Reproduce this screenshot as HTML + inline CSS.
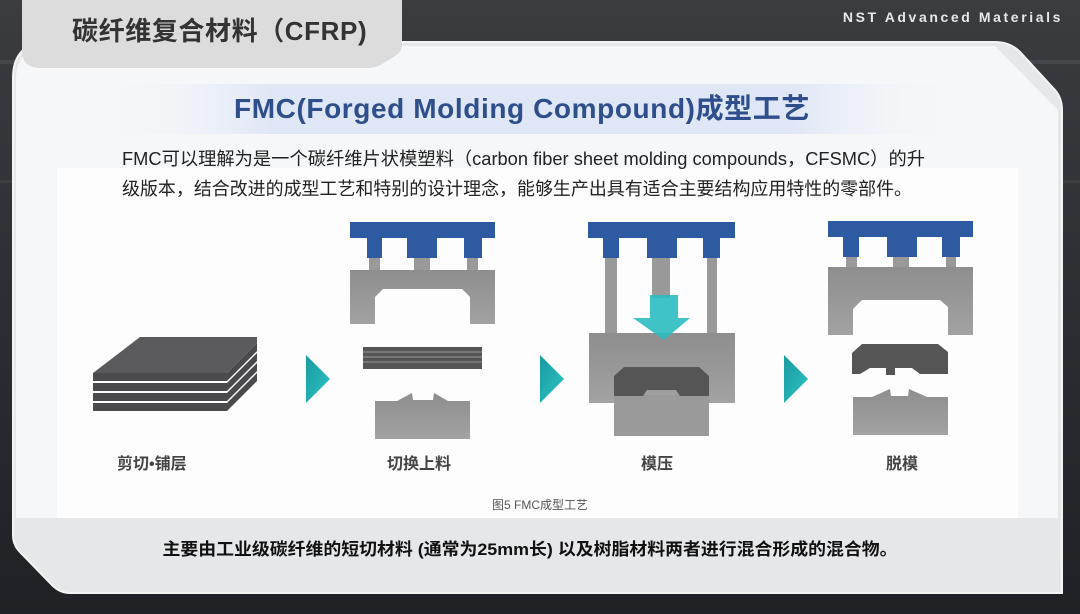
<!DOCTYPE html>
<html><head><meta charset="utf-8"><style>
body{margin:0;width:1080px;height:614px;overflow:hidden;background:#26282c;font-family:"Liberation Sans","Noto Sans CJK SC",sans-serif}
svg{display:block}
</style></head><body>
<svg width="1080" height="614" viewBox="0 0 1080 614" xmlns="http://www.w3.org/2000/svg" font-family="Liberation Sans, Noto Sans CJK SC, sans-serif">
<defs>
<linearGradient id="bg" x1="0" y1="0" x2="0" y2="1"><stop offset="0" stop-color="#3a3c40"/><stop offset="0.5" stop-color="#2c2e33"/><stop offset="1" stop-color="#1f2126"/></linearGradient>
<linearGradient id="band" x1="0" y1="0" x2="1" y2="0"><stop offset="0" stop-color="#f4f6fb" stop-opacity="0"/><stop offset="0.2" stop-color="#dfe6f6"/><stop offset="0.8" stop-color="#dfe6f6"/><stop offset="1" stop-color="#f4f6fb" stop-opacity="0"/></linearGradient>
<linearGradient id="cy" x1="0" y1="0" x2="1" y2="1"><stop offset="0" stop-color="#1a9aa0"/><stop offset="1" stop-color="#2cc4c4"/></linearGradient>
<linearGradient id="gr" x1="0" y1="0" x2="0" y2="1"><stop offset="0" stop-color="#8e8e8e"/><stop offset="1" stop-color="#a2a2a2"/></linearGradient>
</defs>
<rect width="1080" height="614" fill="url(#bg)"/>
<rect x="0" y="60" width="1080" height="4" fill="#44464a"/>
<rect x="0" y="180" width="1080" height="3" fill="#3c3e42"/>
<path d="M13 78 Q13 42 50 42 L995 42 Q1010 42 1020 52 L1055 90 Q1062 98 1062 110 L1062 593 L70 593 Q60 593 52 585 L20 552 Q13 545 13 535 Z" fill="#e6e7e9" stroke="#f4f4f5" stroke-width="2"/>
<path d="M16 80 Q16 46 50 46 L995 46 L1058 110 L1058 518 L16 518 Z" fill="#f6f7f8"/>
<path d="M22 0 L402 0 L402 44 Q402 52 395 56 L382 64 Q376 68 368 68 L40 68 Q22 68 22 50 Z" fill="#dcdcdd"/>
<text x="72" y="40" font-size="26" font-weight="bold" fill="#333" letter-spacing="0.6">碳纤维复合材料（CFRP)</text>
<text x="1063" y="22" font-size="14" font-weight="bold" fill="#e8e8e8" text-anchor="end" letter-spacing="2.6">NST Advanced Materials</text>
<rect x="100" y="84" width="860" height="50" fill="url(#band)"/>
<text x="522" y="118" font-size="28" font-weight="bold" fill="#2e4f8c" text-anchor="middle" letter-spacing="0.6">FMC(Forged  Molding  Compound)成型工艺</text>
<rect x="57" y="168" width="961" height="350" fill="#fdfdfd"/>
<text x="122" y="165" font-size="18" fill="#222" textLength="803" lengthAdjust="spacingAndGlyphs">FMC可以理解为是一个碳纤维片状模塑料（carbon fiber sheet molding compounds，CFSMC）的升</text>
<text x="122" y="195" font-size="18" fill="#222" textLength="790" lengthAdjust="spacingAndGlyphs">级版本，结合改进的成型工艺和特别的设计理念，能够生产出具有适合主要结构应用特性的零部件。</text>
<g fill="#4a4a4c">
<polygon points="93,403 227,403 257,373 257,381 227,411 93,411"/>
<polygon points="93,393 227,393 257,363 257,371 227,401 93,401"/>
<polygon points="93,383 227,383 257,353 257,361 227,391 93,391"/>
<polygon points="93,373 227,373 257,343 257,351 227,381 93,381"/>
<polygon points="93,373 140,337 257,337 257,343 227,373" fill="#5a5a5c"/>
</g>
<polygon points="306,355 330,379 306,403" fill="url(#cy)"/>
<polygon points="540,355 564,379 540,403" fill="url(#cy)"/>
<polygon points="784,355 808,379 784,403" fill="url(#cy)"/>
<g>
<rect x="350" y="222" width="145" height="16" fill="#2d5aa0"/>
<rect x="367" y="237" width="15" height="21" fill="#2d5aa0"/><rect x="407" y="237" width="30" height="21" fill="#2d5aa0"/><rect x="464" y="237" width="18" height="21" fill="#2d5aa0"/>
<rect x="369" y="258" width="11" height="12" fill="#999"/><rect x="414" y="258" width="16" height="12" fill="#999"/><rect x="467" y="258" width="11" height="12" fill="#999"/>
<path d="M350 270 L495 270 L495 324 L470 324 L470 297 L462 289 L383 289 L375 297 L375 324 L350 324 Z" fill="url(#gr)"/>
<rect x="363" y="347" width="119" height="22" fill="#555"/>
<g stroke="#8a8a8a" stroke-width="1.2"><line x1="363" y1="352" x2="482" y2="352"/><line x1="363" y1="357" x2="482" y2="357"/><line x1="363" y1="362" x2="482" y2="362"/></g>
<path d="M375 401 L397 401 L412 393 L413 400 L433 400 L434 393 L448 401 L470 401 L470 439 L375 439 Z" fill="url(#gr)"/>
</g>
<g>
<rect x="588" y="222" width="147" height="16" fill="#2d5aa0"/>
<rect x="603" y="237" width="16" height="21" fill="#2d5aa0"/><rect x="647" y="237" width="30" height="21" fill="#2d5aa0"/><rect x="703" y="237" width="17" height="21" fill="#2d5aa0"/>
<rect x="605" y="258" width="12" height="76" fill="#999"/><rect x="652" y="258" width="18" height="40" fill="#999"/><rect x="707" y="258" width="10" height="76" fill="#999"/>
<rect x="589" y="333" width="146" height="70" fill="url(#gr)"/>
<rect x="614" y="395" width="95" height="41" fill="#9a9a9a"/>
<path d="M624 367 L699 367 L709 376 L709 396 L680 396 L676 390 L647 390 L643 396 L614 396 L614 376 Z" fill="#555"/>
<path d="M650 295 L678 295 L678 318 L690 318 L664 340 L633 318 L650 318 Z" fill="#2bbcc0" opacity="0.9"/>
</g>
<g>
<rect x="828" y="221" width="145" height="16" fill="#2d5aa0"/>
<rect x="843" y="236" width="16" height="21" fill="#2d5aa0"/><rect x="887" y="236" width="30" height="21" fill="#2d5aa0"/><rect x="942" y="236" width="18" height="21" fill="#2d5aa0"/>
<rect x="846" y="257" width="11" height="10" fill="#999"/><rect x="893" y="257" width="16" height="10" fill="#999"/><rect x="946" y="257" width="10" height="10" fill="#999"/>
<path d="M828 267 L973 267 L973 335 L948 335 L948 307 L940 300 L862 300 L853 309 L853 335 L828 335 Z" fill="url(#gr)"/>
<path d="M862 344 L938 344 L948 352 L948 374 L920 374 L912 368 L895 368 L895 375 L886 375 L886 368 L870 368 L860 374 L852 374 L852 353 Z" fill="#555"/>
<path d="M853 397 L872 397 L890 389 L891 396 L908 396 L909 389 L927 397 L948 397 L948 435 L853 435 Z" fill="url(#gr)"/>
</g>
<g font-size="16" font-weight="bold" fill="#444">
<text x="117" y="469">剪切•铺层</text>
<text x="387" y="469">切换上料</text>
<text x="641" y="469">模压</text>
<text x="886" y="469">脱模</text>
</g>
<text x="540" y="509" font-size="12" fill="#555" text-anchor="middle">图5 FMC成型工艺</text>
<text x="530" y="555" font-size="17" font-weight="bold" fill="#111" text-anchor="middle" textLength="735" lengthAdjust="spacingAndGlyphs">主要由工业级碳纤维的短切材料 (通常为25mm长) 以及树脂材料两者进行混合形成的混合物。</text>
</svg>
</body></html>
